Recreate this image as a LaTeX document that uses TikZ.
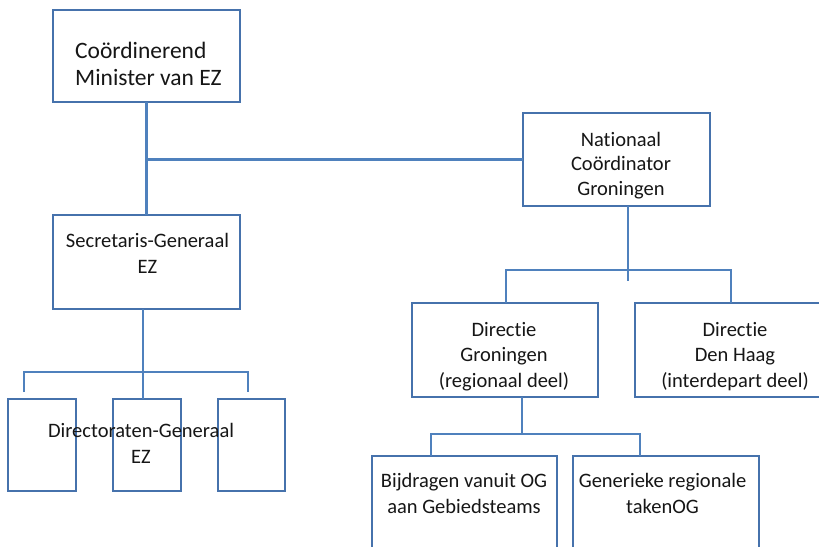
\documentclass[tikz,border=0pt]{standalone}
\usepackage{fontspec}
\setmainfont{Carlito}[RawFeature={-liga;-clig;-dlig}]
\definecolor{lc}{HTML}{4F81BD}
\definecolor{bc}{HTML}{4672AC}
\definecolor{tc}{HTML}{161616}
\begin{document}
\begin{tikzpicture}[x=1pt,y=-1pt,
 box/.style={draw=bc, line width=2.4pt, inner sep=0pt, outer sep=0pt},
 conn/.style={draw=lc, line width=2.4pt},
 txt/.style={text=tc, align=center, inner sep=0pt, font=\fontsize{20.5}{25.5}\selectfont},
]
\fill[white] (0,0) rectangle (819,546);
\useasboundingbox (0,0) rectangle (819,546);
\begin{scope}
\clip (0,0) rectangle (819,546);
% boxes
\node[box, minimum width=187pt, minimum height=92pt] (min) at (146.5,56) {};
\node[box, minimum width=187pt, minimum height=93pt] (nat) at (616.5,159.5) {};
\node[box, minimum width=187pt, minimum height=94pt] (sg) at (146.5,262) {};
\node[box, minimum width=68pt, minimum height=92pt] (dga) at (42,445) {};
\node[box, minimum width=68pt, minimum height=92pt] (dgb) at (147,445) {};
\node[box, minimum width=67pt, minimum height=92pt] (dgc) at (251.5,445) {};
\node[box, minimum width=186pt, minimum height=94pt] (grn) at (505,350) {};
\node[box, minimum width=200pt, minimum height=94pt] (dha) at (735,350) {};
\node[box, minimum width=185pt, minimum height=110pt] (bij) at (464.5,511) {};
\node[box, minimum width=186pt, minimum height=110pt] (gen) at (666,511) {};
% coordinates
\coordinate (sgj) at (143,372);
\coordinate (dl) at (24,392);
\coordinate (dr) at (248,392);
\coordinate (natj) at (628,270);
\coordinate (natend) at (628,281);
\coordinate (ga) at (506,270);
\coordinate (ha) at (731,270);
\coordinate (grj) at (522,434);
\coordinate (ba) at (431,434);
\coordinate (gb) at (640,434);
% connectors
\draw[conn] (min.south) -- (sg.north);
\draw[conn] (nat.west) -- (min.south |- nat.west);
\draw[conn] (sg.south -| sgj) -- (sgj) -- (sgj |- dgb.north);
\draw[conn] (dl) -- (dl |- sgj) -- (dr |- sgj) -- (dr);
\draw[conn] (nat.south -| natj) -- (natend);
\draw[conn] (ga |- grn.north) -- (ga) -- (ha) -- (ha |- dha.north);
\draw[conn] (grn.south -| grj) -- (grj);
\draw[conn] (ba |- bij.north) -- (ba) -- (gb) -- (gb |- gen.north);
% texts (base anchor = baseline of last line)
\node[txt, anchor=base west, align=left, font=\fontsize{23.5}{27}\selectfont] (tmin) at (75,85) {Coördinerend\\Minister van EZ};
\node[txt, anchor=base, font=\fontsize{20.5}{24.5}\selectfont] (tnat) at (621,195) {Nationaal\\Coördinator\\Groningen};
\node[txt, anchor=base] (tsg) at (147.5,273) {Secretaris-Generaal\\EZ};
\node[txt, anchor=base] (tdg) at (141,463) {Directoraten-Generaal\\EZ};
\node[txt, anchor=base] (tgrn) at (504,387) {Directie\\Groningen\\(regionaal deel)};
\node[txt, anchor=base] (tdha) at (735,387) {Directie\\Den Haag\\(interdepart deel)};
\node[txt, anchor=base] (tbij) at (464,513) {Bijdragen vanuit OG\\aan Gebiedsteams};
\node[txt, anchor=base] (tgen) at (662.5,513) {Generieke regionale\\takenOG};
\end{scope}
\end{tikzpicture}
\end{document}
